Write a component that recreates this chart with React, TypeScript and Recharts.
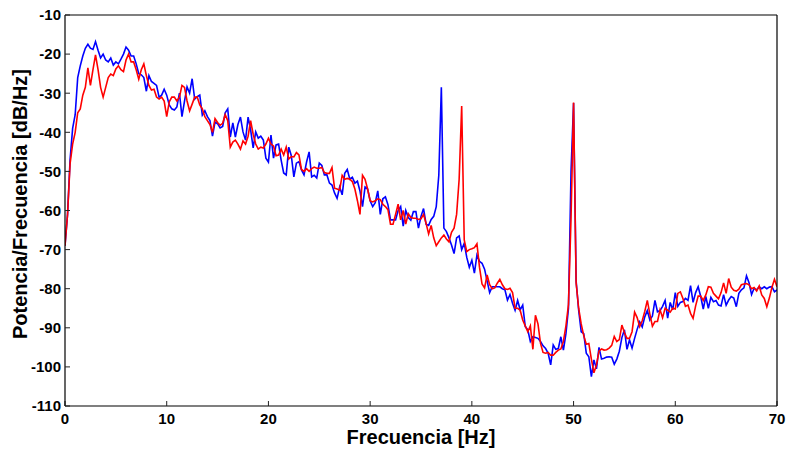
import { LineChart, Line, XAxis, YAxis, Label } from 'recharts';

// PSD estimates, 0..70 Hz sampled every 0.25 Hz
const STEP = 0.25;

const blueDb = [
  -69, -61, -47, -39, -35.5, -26, -23, -20.5, -18.5, -17.5, -18.5, -18.8,
  -16.8, -19, -21, -20, -21.5, -22, -21, -22.8, -22, -22.5, -21.3, -20,
  -18.2, -19, -20.5, -20.5, -22.5, -25, -25.3, -26, -29.5, -25.5, -27, -27.5,
  -28, -31, -30.5, -29, -30.5, -33, -34, -34.3, -33.5, -30, -36, -32,
  -28.4, -30, -26.3, -31.5, -30.9, -30.5, -35.6, -34.5, -36, -37, -41, -37.4,
  -37.8, -38.9, -38.5, -35, -34, -41.2, -37.6, -41.2, -38, -36.1, -39.9, -42,
  -36.1, -39.4, -44, -39.9, -41.5, -41, -42, -46.6, -47.6, -40.7, -46.6, -43.2,
  -43, -47.1, -50.4, -50.9, -43.8, -46, -51.4, -47.9, -47.5, -49.6, -50.9, -47.6,
  -45, -51.4, -51, -51.7, -47.9, -48.5, -50.9, -50.9, -53, -53.5, -55.5, -56.9,
  -54, -56, -50.5, -49.5, -52, -51.5, -53, -52.5, -55, -59, -54, -54.5,
  -57.5, -59, -58, -55, -61, -57, -56.5, -58.5, -62.4, -62.4, -62.4, -60,
  -59, -64, -60, -61.8, -62.5, -60.3, -60.3, -64.5, -61.5, -59.5, -63.5, -63.8,
  -62.3, -61.5, -59, -51, -28.5, -64.5, -65.4, -67, -68.8, -71, -67, -66.5,
  -70, -68.4, -72, -74.5, -72.7, -76, -71.4, -73, -73.5, -75, -78, -81,
  -79.5, -79.5, -79.5, -79.5, -80, -80.3, -82.9, -81.5, -83.7, -85.5, -83, -85.4,
  -84.2, -89.7, -90.5, -93.5, -92.3, -92.5, -92.7, -93.5, -94.6, -95.3, -96.5, -99.5,
  -94.4, -95.5, -95.3, -92.3, -95.7, -91.5, -85, -50, -32.5, -78, -85.5, -91,
  -91.5, -96.5, -97.4, -102.5, -98.2, -100.5, -95, -98, -97.8, -97.5, -97.4, -97.5,
  -99.3, -98, -96, -92.5, -90.5, -95.5, -93.1, -95.2, -92.7, -90.4, -88.5, -89.8,
  -87.2, -85.6, -88, -87, -83, -85.9, -85.6, -84.5, -83, -87.5, -83.5, -85.4,
  -81, -84.5, -83.5, -83.3, -82.5, -83, -79.2, -83.5, -81, -79.5, -82, -85.2,
  -82, -85, -82.2, -83.3, -83, -84.2, -84.4, -81.5, -84.2, -82.9, -82, -82.4,
  -84.6, -81.2, -80.3, -79.8, -76.7, -78.5, -81.5, -79.9, -80.3, -79.5, -80, -79.5,
  -80, -79.6, -79.5, -80.8, -80.3,
];

const redDb = [
  -69, -61, -48, -43, -40, -35, -34, -30.5, -28.5, -23.5, -28, -24,
  -20.2, -24, -28.5, -31, -28.5, -26, -25.1, -25.5, -23.8, -23, -24, -24.5,
  -21.5, -20, -22, -22, -24, -26.4, -24, -22.5, -25.5, -28, -29.2, -29,
  -31, -31.5, -31, -32, -36, -32.2, -31, -31, -32, -31, -28, -28.5,
  -32, -34.5, -32.8, -31, -31, -33, -34, -36, -37, -38, -40, -36.5,
  -37.5, -38.2, -37.7, -35.5, -37, -43.8, -42.5, -42, -43, -44.3, -42.2, -43,
  -41, -37, -40.5, -43, -44.3, -43.8, -44, -43, -41.5, -43, -43.5, -46,
  -45.8, -44.3, -45.8, -43.8, -46.8, -46.2, -46.3, -45.2, -45.8, -49.5, -50, -49.3,
  -50, -49.3, -48.9, -49.2, -49.2, -49, -50.3, -50.5, -50.5, -49, -54.3, -54.5,
  -54.8, -51, -52, -51.8, -52, -52.6, -54.5, -57.5, -61, -51, -52, -54.5,
  -57.5, -57.8, -57.5, -57, -57.2, -58.4, -59, -59.8, -63.5, -63.5, -61, -58.4,
  -62.4, -60, -63.5, -60.8, -61.8, -62, -62, -62.3, -62.1, -61, -63.3, -66,
  -63.8, -67, -69, -68, -67, -66.3, -67.3, -68, -65.6, -64.5, -61, -52,
  -33.3, -67.5, -70.5, -70, -69.8, -69.5, -68.5, -74.5, -78.8, -79.8, -76.5, -79,
  -80, -79.8, -78.6, -77.6, -79, -80, -80.2, -79.9, -81, -85, -85, -85.5,
  -88, -89.5, -91, -89.5, -95.5, -86.8, -89, -94, -96.3, -96.5, -96.3, -97,
  -97, -96.3, -95.7, -95.4, -93.5, -89.5, -84, -62, -32.4, -78.5, -85, -89,
  -92, -94.2, -94, -98, -101.5, -99.5, -96, -95.4, -95.7, -95.6, -95.2, -94.5,
  -92.2, -93.5, -93, -89.3, -91.2, -92.7, -92.7, -91, -86, -87.4, -89.7, -88.2,
  -85.8, -83, -86.5, -89.6, -88.4, -88.4, -85.4, -87.4, -85, -85.5, -86, -85,
  -85.2, -81.2, -80.8, -82.5, -84.5, -84.2, -86.3, -87.6, -84.4, -81.9, -81.9, -83,
  -81.6, -79.5, -79.6, -81.2, -81.9, -82.6, -81, -78.5, -81.2, -77.4, -79.6, -80.4,
  -80.6, -80.1, -79, -78.8, -78.7, -79, -80, -79.7, -80.6, -79.3, -81.6, -82.5,
  -84.6, -82.4, -79.7, -77.6, -79.5,
];

const xTicks = [0, 10, 20, 30, 40, 50, 60, 70];
const yTicks = [-110, -100, -90, -80, -70, -60, -50, -40, -30, -20, -10];

const data = blueDb.map((b, i) => ({ f: i * STEP, blue: b, red: redDb[i] }));

const FONT = '"Liberation Sans", Arial, Helvetica, sans-serif';
const tickStyle = { fontSize: 15, fontWeight: 700, fill: '#000', fontFamily: FONT };
const boxLine = { stroke: '#000', strokeWidth: 1.2 };

const YTitle = ({ viewBox }: any) => {
  const x = viewBox.x + 27;
  const y = 204;
  return (
    <text
      x={x}
      y={y}
      transform={`rotate(-90, ${x}, ${y})`}
      textAnchor="middle"
      style={{ fontSize: 20, fontWeight: 700, fontFamily: FONT, fill: '#000' }}
    >
      Potencia/Frecuencia [dB/Hz]
    </text>
  );
};

export default function App() {
  return (
    <div style={{ position: 'absolute', left: 0, top: 0, width: 788, height: 450, background: '#fff' }}>
      <LineChart width={788} height={450} data={data} margin={{ top: 14, right: 10, left: 0, bottom: 0 }}>
        <XAxis
          dataKey="f"
          type="number"
          domain={[0, 70]}
          ticks={xTicks}
          interval={0}
          height={44}
          tickSize={-5}
          tickMargin={12}
          tick={tickStyle}
          axisLine={boxLine}
          tickLine={{ stroke: '#222' }}
          allowDataOverflow
        >
          <Label
            value="Frecuencia [Hz]"
            position="insideBottom"
            offset={6}
            style={{ fontSize: 20, fontWeight: 700, fontFamily: FONT, fill: '#000' }}
          />
        </XAxis>
        <XAxis
          xAxisId="top"
          dataKey="f"
          orientation="top"
          type="number"
          domain={[0, 70]}
          ticks={xTicks}
          interval={0}
          height={1}
          tickSize={-5}
          tick={false}
          axisLine={boxLine}
          tickLine={{ stroke: '#222' }}
          allowDataOverflow
        />
        <YAxis
          type="number"
          domain={[-110, -10]}
          ticks={yTicks}
          interval={0}
          width={65}
          tickSize={-5}
          tickMargin={9}
          tick={tickStyle}
          axisLine={boxLine}
          tickLine={{ stroke: '#222' }}
          allowDataOverflow
        >
          <Label content={<YTitle />} />
        </YAxis>
        <YAxis
          yAxisId="right"
          orientation="right"
          type="number"
          domain={[-110, -10]}
          ticks={yTicks}
          interval={0}
          width={1}
          tickSize={-5}
          tick={false}
          axisLine={boxLine}
          tickLine={{ stroke: '#222' }}
          allowDataOverflow
        />
        {/* invisible series so the top/right frame axes are drawn */}
        <Line
          xAxisId="top"
          yAxisId="right"
          dataKey="red"
          stroke="none"
          dot={false}
          activeDot={false}
          legendType="none"
          isAnimationActive={false}
        />
        <Line type="linear" dataKey="blue" stroke="#0000ff" strokeWidth={1.6} dot={false} isAnimationActive={false} />
        <Line type="linear" dataKey="red" stroke="#ff0000" strokeWidth={1.6} dot={false} isAnimationActive={false} />
      </LineChart>
    </div>
  );
}
